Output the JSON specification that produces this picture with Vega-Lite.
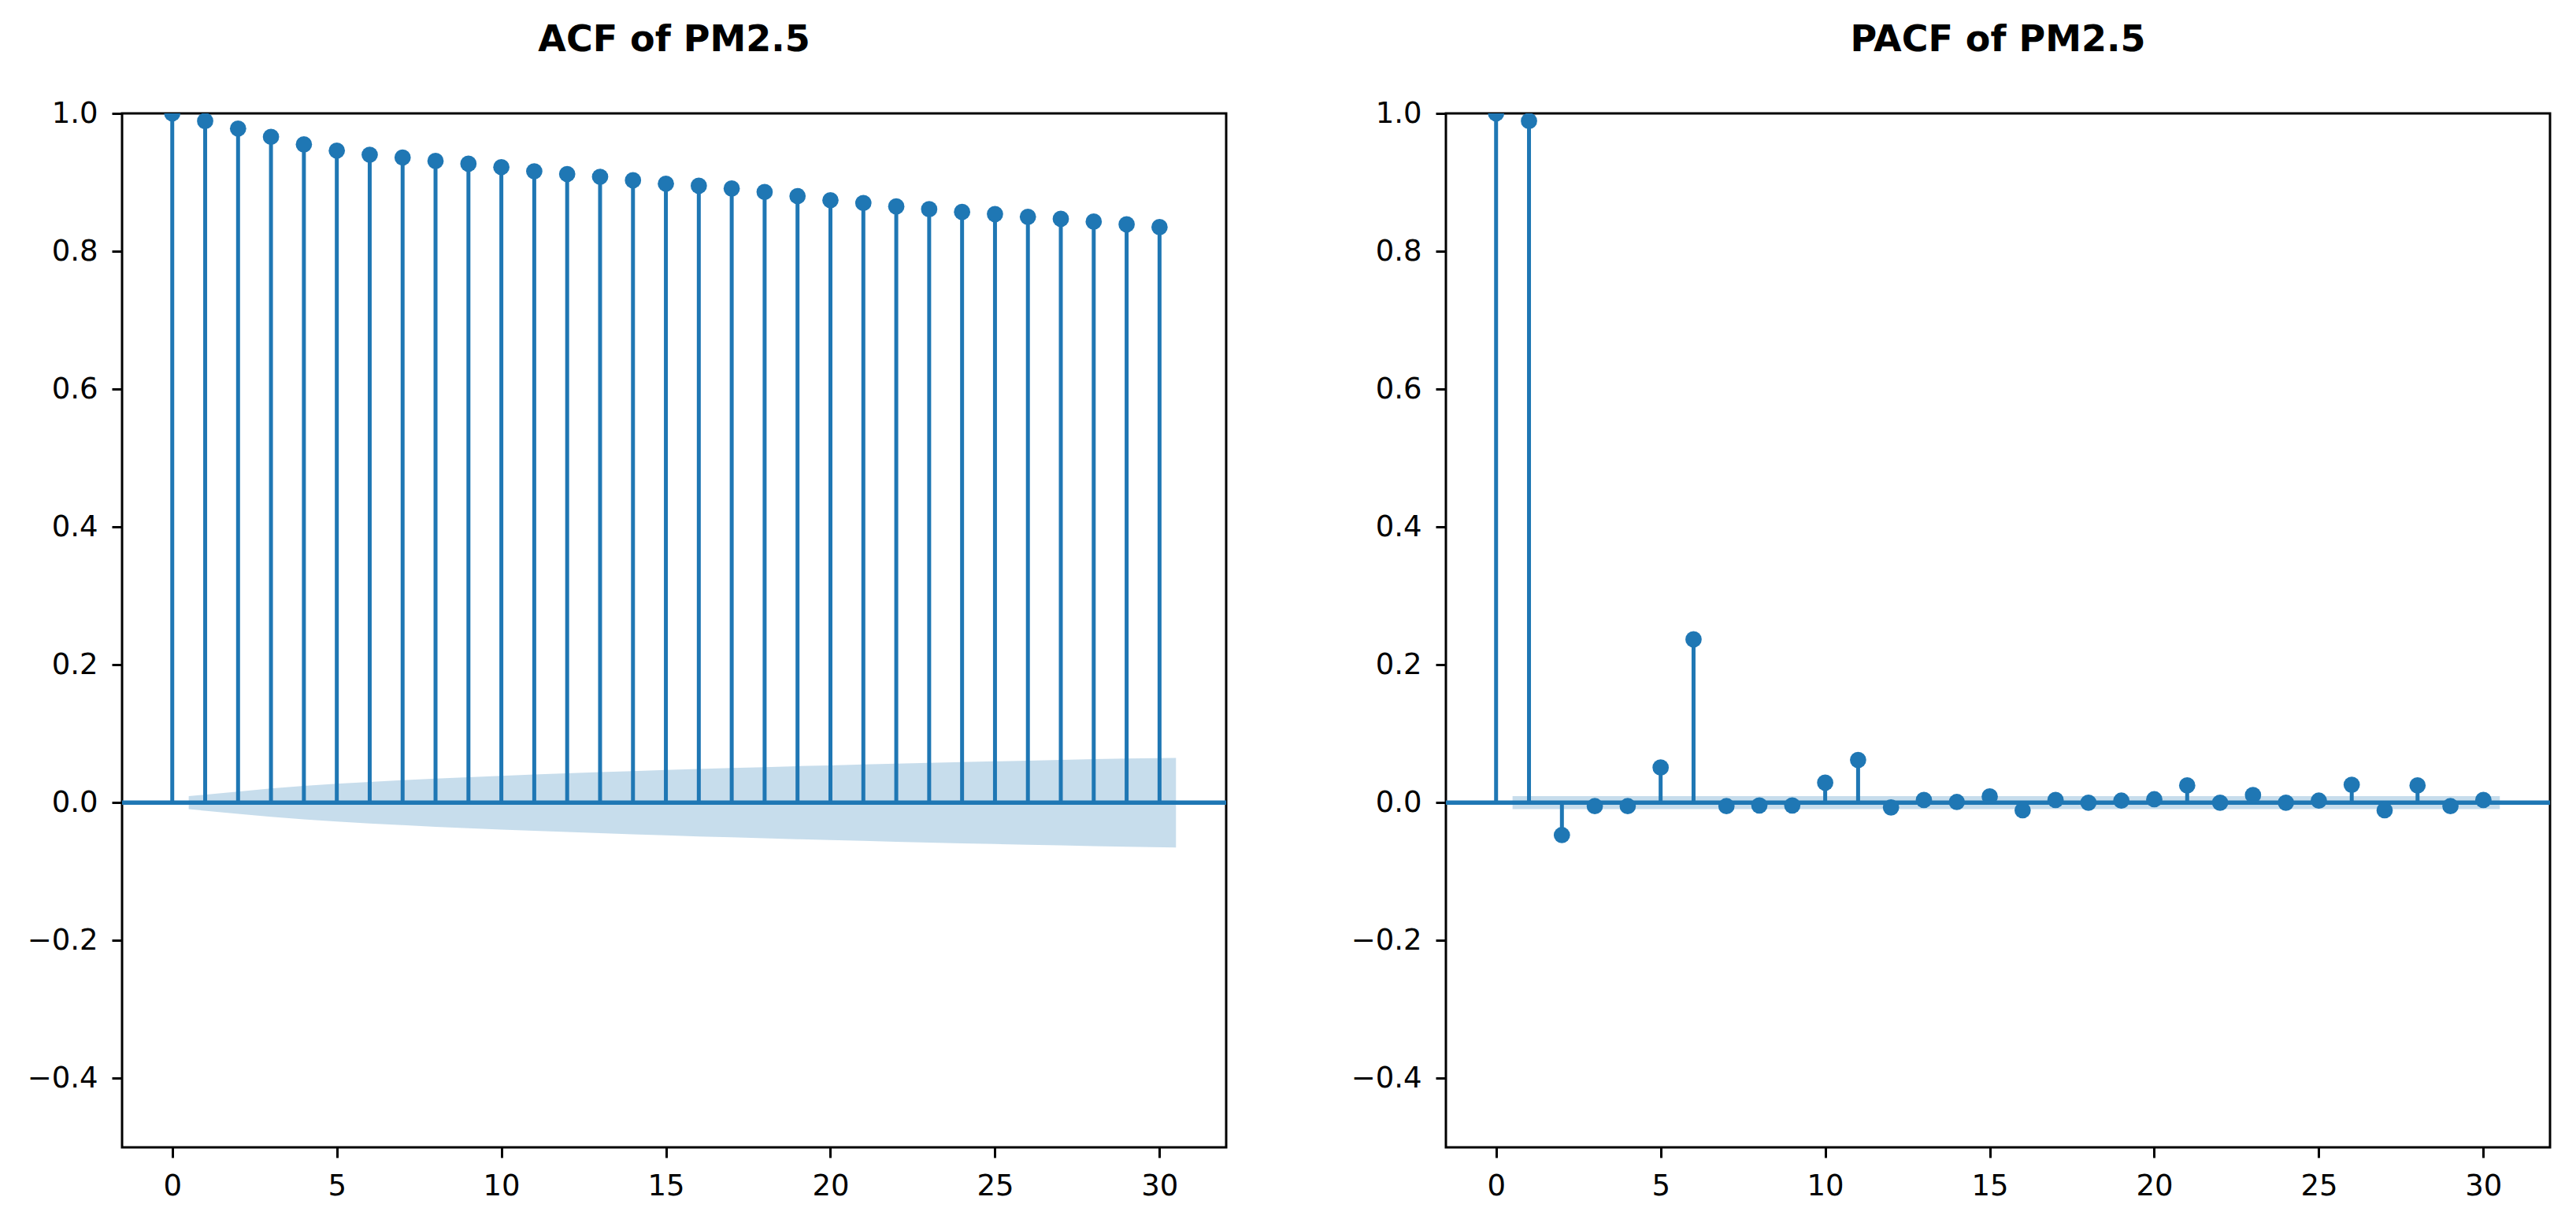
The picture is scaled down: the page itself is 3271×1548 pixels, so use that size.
{
  "$schema": "https://vega.github.io/schema/vega-lite/v6.json",
  "background": "white",
  "padding": {"left": 32, "top": 26, "right": 0, "bottom": 0},
  "autosize": {"type": "pad"},
  "spacing": 154,
  "config": {
    "font": "DejaVu Sans",
    "view": {"stroke": "black", "strokeWidth": 3},
    "axis": {
      "grid": false,
      "domain": false,
      "ticks": true,
      "tickSize": 13,
      "tickWidth": 3,
      "tickColor": "black",
      "labelColor": "black",
      "labelFont": "DejaVu Sans",
      "labelFontSize": 37,
      "labelPadding": 18
    },
    "title": {"font": "DejaVu Sans", "fontSize": 46, "fontWeight": "bold", "color": "black", "anchor": "middle", "baseline": "alphabetic", "offset": 50}
  },
  "datasets": {
    "acf": [
      {"lag": 0, "value": 1.0}, {"lag": 1, "value": 0.989}, {"lag": 2, "value": 0.978}, {"lag": 3, "value": 0.966},
      {"lag": 4, "value": 0.955}, {"lag": 5, "value": 0.946}, {"lag": 6, "value": 0.940}, {"lag": 7, "value": 0.936},
      {"lag": 8, "value": 0.931}, {"lag": 9, "value": 0.927}, {"lag": 10, "value": 0.922}, {"lag": 11, "value": 0.916},
      {"lag": 12, "value": 0.912}, {"lag": 13, "value": 0.908}, {"lag": 14, "value": 0.903}, {"lag": 15, "value": 0.898},
      {"lag": 16, "value": 0.895}, {"lag": 17, "value": 0.891}, {"lag": 18, "value": 0.886}, {"lag": 19, "value": 0.880},
      {"lag": 20, "value": 0.874}, {"lag": 21, "value": 0.870}, {"lag": 22, "value": 0.865}, {"lag": 23, "value": 0.861},
      {"lag": 24, "value": 0.857}, {"lag": 25, "value": 0.854}, {"lag": 26, "value": 0.850}, {"lag": 27, "value": 0.847},
      {"lag": 28, "value": 0.843}, {"lag": 29, "value": 0.839}, {"lag": 30, "value": 0.835}
    ],
    "acfband": [
      {"x": 0.5, "lo": -0.0094, "hi": 0.0094}, {"x": 2, "lo": -0.0161, "hi": 0.0161}, {"x": 3, "lo": -0.0206, "hi": 0.0206},
      {"x": 4, "lo": -0.0243, "hi": 0.0243}, {"x": 5, "lo": -0.0274, "hi": 0.0274}, {"x": 6, "lo": -0.0301, "hi": 0.0301},
      {"x": 7, "lo": -0.0326, "hi": 0.0326}, {"x": 8, "lo": -0.0349, "hi": 0.0349}, {"x": 9, "lo": -0.0370, "hi": 0.0370},
      {"x": 10, "lo": -0.0390, "hi": 0.0390}, {"x": 11, "lo": -0.0408, "hi": 0.0408}, {"x": 12, "lo": -0.0426, "hi": 0.0426},
      {"x": 13, "lo": -0.0443, "hi": 0.0443}, {"x": 14, "lo": -0.0459, "hi": 0.0459}, {"x": 15, "lo": -0.0474, "hi": 0.0474},
      {"x": 16, "lo": -0.0489, "hi": 0.0489}, {"x": 17, "lo": -0.0503, "hi": 0.0503}, {"x": 18, "lo": -0.0516, "hi": 0.0516},
      {"x": 19, "lo": -0.0530, "hi": 0.0530}, {"x": 20, "lo": -0.0542, "hi": 0.0542}, {"x": 21, "lo": -0.0554, "hi": 0.0554},
      {"x": 22, "lo": -0.0566, "hi": 0.0566}, {"x": 23, "lo": -0.0578, "hi": 0.0578}, {"x": 24, "lo": -0.0589, "hi": 0.0589},
      {"x": 25, "lo": -0.0600, "hi": 0.0600}, {"x": 26, "lo": -0.0610, "hi": 0.0610}, {"x": 27, "lo": -0.0620, "hi": 0.0620},
      {"x": 28, "lo": -0.0631, "hi": 0.0631}, {"x": 29, "lo": -0.0640, "hi": 0.0640}, {"x": 30.5, "lo": -0.0650, "hi": 0.0650}
    ],
    "pacf": [
      {"lag": 0, "value": 1.0}, {"lag": 1, "value": 0.989}, {"lag": 2, "value": -0.047}, {"lag": 3, "value": -0.005},
      {"lag": 4, "value": -0.005}, {"lag": 5, "value": 0.051}, {"lag": 6, "value": 0.237}, {"lag": 7, "value": -0.005},
      {"lag": 8, "value": -0.004}, {"lag": 9, "value": -0.004}, {"lag": 10, "value": 0.029}, {"lag": 11, "value": 0.062},
      {"lag": 12, "value": -0.007}, {"lag": 13, "value": 0.004}, {"lag": 14, "value": 0.001}, {"lag": 15, "value": 0.009},
      {"lag": 16, "value": -0.011}, {"lag": 17, "value": 0.004}, {"lag": 18, "value": 0.0}, {"lag": 19, "value": 0.003},
      {"lag": 20, "value": 0.005}, {"lag": 21, "value": 0.025}, {"lag": 22, "value": 0.0}, {"lag": 23, "value": 0.011},
      {"lag": 24, "value": 0.0}, {"lag": 25, "value": 0.003}, {"lag": 26, "value": 0.026}, {"lag": 27, "value": -0.011},
      {"lag": 28, "value": 0.025}, {"lag": 29, "value": -0.005}, {"lag": 30, "value": 0.004}
    ],
    "pacfband": [
      {"x": 0.5, "lo": -0.0094, "hi": 0.0094}, {"x": 30.5, "lo": -0.0094, "hi": 0.0094}
    ]
  },
  "hconcat": [
    {
      "title": "ACF of PM2.5",
      "width": 1402,
      "height": 1313,
      "layer": [
        {
          "data": {"name": "acf"},
          "mark": {"type": "rule", "color": "#1f77b4", "strokeWidth": 5, "clip": true},
          "encoding": {
            "x": {"field": "lag", "type": "quantitative", "title": null, "scale": {"domain": [-1.525, 32.025], "nice": false, "zero": false}, "axis": {"values": [0, 5, 10, 15, 20, 25, 30], "format": "d"}},
            "y": {"field": "value", "type": "quantitative", "title": null, "scale": {"domain": [-0.5, 1.0], "nice": false}, "axis": {"values": [-0.4, -0.2, 0.0, 0.2, 0.4, 0.6, 0.8, 1.0], "format": ".1f"}},
            "y2": {"datum": 0}
          }
        },
        {
          "data": {"values": [{"z": 0}]},
          "mark": {"type": "rule", "color": "#1f77b4", "strokeWidth": 5.5, "clip": true},
          "encoding": {"y": {"field": "z", "type": "quantitative"}}
        },
        {
          "data": {"name": "acf"},
          "mark": {"type": "point", "filled": true, "color": "#1f77b4", "opacity": 1, "size": 430, "clip": true},
          "encoding": {
            "x": {"field": "lag", "type": "quantitative"},
            "y": {"field": "value", "type": "quantitative"}
          }
        },
        {
          "data": {"name": "acfband"},
          "mark": {"type": "area", "color": "#1f77b4", "opacity": 0.25, "clip": true},
          "encoding": {
            "x": {"field": "x", "type": "quantitative"},
            "y": {"field": "lo", "type": "quantitative"},
            "y2": {"field": "hi"}
          }
        }
      ]
    },
    {
      "title": "PACF of PM2.5",
      "width": 1402,
      "height": 1313,
      "layer": [
        {
          "data": {"name": "pacf"},
          "mark": {"type": "rule", "color": "#1f77b4", "strokeWidth": 5, "clip": true},
          "encoding": {
            "x": {"field": "lag", "type": "quantitative", "title": null, "scale": {"domain": [-1.525, 32.025], "nice": false, "zero": false}, "axis": {"values": [0, 5, 10, 15, 20, 25, 30], "format": "d"}},
            "y": {"field": "value", "type": "quantitative", "title": null, "scale": {"domain": [-0.5, 1.0], "nice": false}, "axis": {"values": [-0.4, -0.2, 0.0, 0.2, 0.4, 0.6, 0.8, 1.0], "format": ".1f"}},
            "y2": {"datum": 0}
          }
        },
        {
          "data": {"values": [{"z": 0}]},
          "mark": {"type": "rule", "color": "#1f77b4", "strokeWidth": 5.5, "clip": true},
          "encoding": {"y": {"field": "z", "type": "quantitative"}}
        },
        {
          "data": {"name": "pacf"},
          "mark": {"type": "point", "filled": true, "color": "#1f77b4", "opacity": 1, "size": 430, "clip": true},
          "encoding": {
            "x": {"field": "lag", "type": "quantitative"},
            "y": {"field": "value", "type": "quantitative"}
          }
        },
        {
          "data": {"name": "pacfband"},
          "mark": {"type": "area", "color": "#1f77b4", "opacity": 0.25, "clip": true},
          "encoding": {
            "x": {"field": "x", "type": "quantitative"},
            "y": {"field": "lo", "type": "quantitative"},
            "y2": {"field": "hi"}
          }
        }
      ]
    }
  ]
}
